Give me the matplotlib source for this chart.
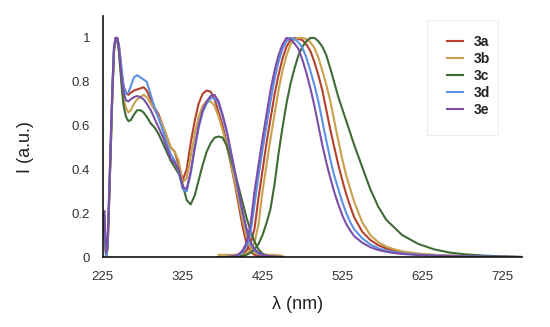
import matplotlib
matplotlib.use("Agg")
import matplotlib.pyplot as plt
from matplotlib.patches import Rectangle

plt.rcParams['font.family'] = ['Liberation Sans', 'DejaVu Sans']

# absorption spectra (nm, normalised intensity)
wl_abs = [225, 227, 229, 231, 233, 235, 237, 239, 241, 243,
          245, 247, 249, 251, 254, 257, 260, 264, 268, 272,
          276, 280, 285, 290, 295, 300, 305, 310, 315, 320,
          325, 330, 335, 340, 345, 350, 355, 360, 365, 370,
          375, 380, 385, 390, 395, 400, 405, 410, 415, 420,
          425, 430, 435, 440, 450]

abs_3a = [0.10, 0.14, 0.02, 0.05, 0.28, 0.52, 0.76, 0.95, 1.0, 1.0,
          0.97, 0.90, 0.83, 0.78, 0.75, 0.74, 0.75, 0.76, 0.765, 0.77,
          0.775, 0.76, 0.72, 0.68, 0.65, 0.60, 0.55, 0.50, 0.48, 0.42,
          0.35, 0.40, 0.52, 0.62, 0.70, 0.745, 0.76, 0.755, 0.72, 0.66,
          0.60, 0.52, 0.43, 0.34, 0.24, 0.14, 0.06, 0.025, 0.01, 0.005,
          0.002, 0.001, 0.0, 0.0, 0.0]
abs_3b = [0.08, 0.16, 0.0, 0.04, 0.27, 0.50, 0.75, 0.94, 1.0, 0.99,
          0.95, 0.87, 0.78, 0.72, 0.68, 0.66, 0.67, 0.70, 0.72, 0.73,
          0.74, 0.73, 0.70, 0.67, 0.64, 0.60, 0.55, 0.50, 0.48, 0.44,
          0.34, 0.36, 0.46, 0.56, 0.64, 0.69, 0.71, 0.71, 0.69, 0.64,
          0.58, 0.51, 0.43, 0.35, 0.26, 0.17, 0.09, 0.04, 0.02, 0.015,
          0.012, 0.01, 0.01, 0.01, 0.005]
abs_3c = [0.12, 0.16, 0.0, 0.04, 0.27, 0.50, 0.75, 0.94, 0.995, 0.99,
          0.94, 0.85, 0.76, 0.69, 0.64, 0.62, 0.625, 0.65, 0.67, 0.67,
          0.66, 0.64, 0.61, 0.59, 0.56, 0.52, 0.48, 0.44, 0.41, 0.38,
          0.33, 0.26, 0.24, 0.28, 0.35, 0.42, 0.48, 0.52, 0.545, 0.55,
          0.545, 0.51, 0.45, 0.39, 0.32, 0.25, 0.18, 0.12, 0.07, 0.035,
          0.015, 0.007, 0.003, 0.001, 0.0]
abs_3d = [0.15, 0.19, 0.0, 0.06, 0.30, 0.55, 0.78, 0.96, 1.0, 1.0,
          0.97, 0.91, 0.84, 0.78, 0.745, 0.75, 0.78, 0.82, 0.83, 0.82,
          0.81, 0.80, 0.74, 0.68, 0.63, 0.58, 0.52, 0.47, 0.44, 0.39,
          0.31, 0.30, 0.38, 0.49, 0.59, 0.66, 0.70, 0.725, 0.725, 0.70,
          0.64, 0.57, 0.48, 0.39, 0.29, 0.20, 0.12, 0.06, 0.03, 0.015,
          0.01, 0.005, 0.003, 0.002, 0.0]
abs_3e = [0.18, 0.21, 0.02, 0.07, 0.30, 0.55, 0.78, 0.96, 1.0, 1.0,
          0.96, 0.88, 0.80, 0.75, 0.715, 0.71, 0.72, 0.73, 0.735, 0.73,
          0.72, 0.70, 0.67, 0.63, 0.59, 0.55, 0.50, 0.45, 0.43, 0.40,
          0.32, 0.31, 0.39, 0.50, 0.60, 0.67, 0.71, 0.735, 0.74, 0.71,
          0.65, 0.58, 0.49, 0.40, 0.30, 0.21, 0.13, 0.07, 0.035, 0.02,
          0.01, 0.006, 0.004, 0.002, 0.0]

# emission spectra
wl_em = [370, 380, 390, 395, 400, 405, 410, 415, 420, 425,
         430, 435, 440, 445, 450, 455, 460, 465, 470, 475,
         480, 485, 490, 495, 500, 505, 510, 515, 520, 525,
         530, 535, 540, 550, 560, 570, 580, 590, 600, 620,
         640, 660, 680, 700, 725, 750]

em_3a = [0.0, 0.0, 0.002, 0.005, 0.012, 0.03, 0.06, 0.13, 0.27, 0.395,
         0.52, 0.63, 0.74, 0.83, 0.905, 0.96, 0.99, 1.0, 0.995, 0.99,
         0.97, 0.94, 0.89, 0.83, 0.76, 0.67, 0.58, 0.50, 0.42, 0.35,
         0.285, 0.23, 0.18, 0.115, 0.078, 0.054, 0.039, 0.029, 0.022, 0.014,
         0.009, 0.006, 0.004, 0.003, 0.001, 0.0]
em_3b = [0.01, 0.01, 0.01, 0.01, 0.012, 0.015, 0.03, 0.065, 0.15, 0.30,
         0.42, 0.54, 0.65, 0.76, 0.85, 0.92, 0.97, 0.995, 1.0, 1.0,
         0.995, 0.98, 0.955, 0.91, 0.85, 0.785, 0.71, 0.62, 0.53, 0.445,
         0.37, 0.31, 0.25, 0.158, 0.10, 0.068, 0.048, 0.035, 0.026, 0.016,
         0.01, 0.007, 0.005, 0.003, 0.0015, 0.0]
em_3c = [0.0, 0.0, 0.002, 0.004, 0.006, 0.01, 0.02, 0.035, 0.06, 0.10,
         0.155, 0.22, 0.33, 0.47, 0.59, 0.70, 0.79, 0.86, 0.92, 0.96,
         0.985, 1.0, 1.0, 0.985, 0.96, 0.92, 0.86, 0.795, 0.73, 0.675,
         0.62, 0.565, 0.51, 0.41, 0.31, 0.23, 0.17, 0.135, 0.10, 0.06,
         0.035, 0.02, 0.012, 0.007, 0.003, 0.0]
em_3d = [0.0, 0.0, 0.004, 0.008, 0.022, 0.05, 0.11, 0.24, 0.37, 0.49,
         0.60, 0.71, 0.81, 0.89, 0.95, 0.985, 1.0, 0.995, 0.98, 0.955,
         0.91, 0.85, 0.785, 0.71, 0.62, 0.53, 0.445, 0.37, 0.31, 0.25,
         0.20, 0.158, 0.126, 0.085, 0.058, 0.04, 0.029, 0.022, 0.017, 0.011,
         0.007, 0.005, 0.003, 0.002, 0.001, 0.0]
em_3e = [0.0, 0.0, 0.005, 0.012, 0.03, 0.065, 0.15, 0.30, 0.42, 0.54,
         0.65, 0.76, 0.85, 0.92, 0.97, 1.0, 0.995, 0.975, 0.95, 0.90,
         0.84, 0.77, 0.69, 0.60, 0.51, 0.43, 0.36, 0.295, 0.24, 0.19,
         0.15, 0.12, 0.095, 0.065, 0.045, 0.032, 0.024, 0.018, 0.014, 0.009,
         0.006, 0.004, 0.003, 0.002, 0.001, 0.0]

labels = ['3a', '3b', '3c', '3d', '3e']
colors = ['#b4412e', '#c9a04c', '#3f6b34', '#5b91e6', '#7c4fa6']
abs_all = [abs_3a, abs_3b, abs_3c, abs_3d, abs_3e]
em_all = [em_3a, em_3b, em_3c, em_3d, em_3e]

xticks = [225, 325, 425, 525, 625, 725]
yticks = [0, 0.2, 0.4, 0.6, 0.8, 1.0]
ytick_labels = ['0', '0.2', '0.4', '0.6', '0.8', '1']

fig = plt.figure(figsize=(5.5, 3.27), dpi=100)
ax = fig.add_axes([0.187, 0.214, 0.762, 0.737])

for lab, col, a, e in zip(labels, colors, abs_all, em_all):
    ax.plot(wl_abs, a, color=col, lw=1.5, label=lab)
    ax.plot(wl_em, e, color=col, lw=1.5)

ax.set_xlim(225, 750)
ax.set_ylim(0, 1.1)
ax.set_xticks(xticks)
ax.set_yticks(yticks)
ax.set_yticklabels(ytick_labels)
ax.tick_params(length=0, labelsize=9.5, labelcolor='#333333')
ax.tick_params(axis='x', pad=10)
ax.tick_params(axis='y', pad=9)

for s in ['top', 'right']:
    ax.spines[s].set_visible(False)
for s in ['left', 'bottom']:
    ax.spines[s].set_linewidth(1.2)
    ax.spines[s].set_color('#111111')

ax.set_xlabel('λ (nm)', fontsize=13, color='#222222')
ax.xaxis.set_label_coords(0.465, -0.16)
ax.set_ylabel('I (a.u.)', fontsize=13, color='#222222')
ax.yaxis.set_label_coords(-0.165, 0.455)

# faint legend box
fig.patches.append(Rectangle((427 / 550, 1 - 135 / 327), 71 / 550, 115 / 327,
                             transform=fig.transFigure, fill=False,
                             edgecolor='#eeeeee', lw=0.8))

leg = ax.legend(loc='upper left', bbox_to_anchor=(447 / 550, 1 - 35 / 327),
                bbox_transform=fig.transFigure, frameon=False,
                handlelength=1.15, handletextpad=0.75, labelspacing=0.22,
                borderpad=0, borderaxespad=0,
                prop={'weight': 'bold', 'size': 10})
for t in leg.get_texts():
    t.set_color('#222222')

fig.savefig('out.png', dpi=100)
